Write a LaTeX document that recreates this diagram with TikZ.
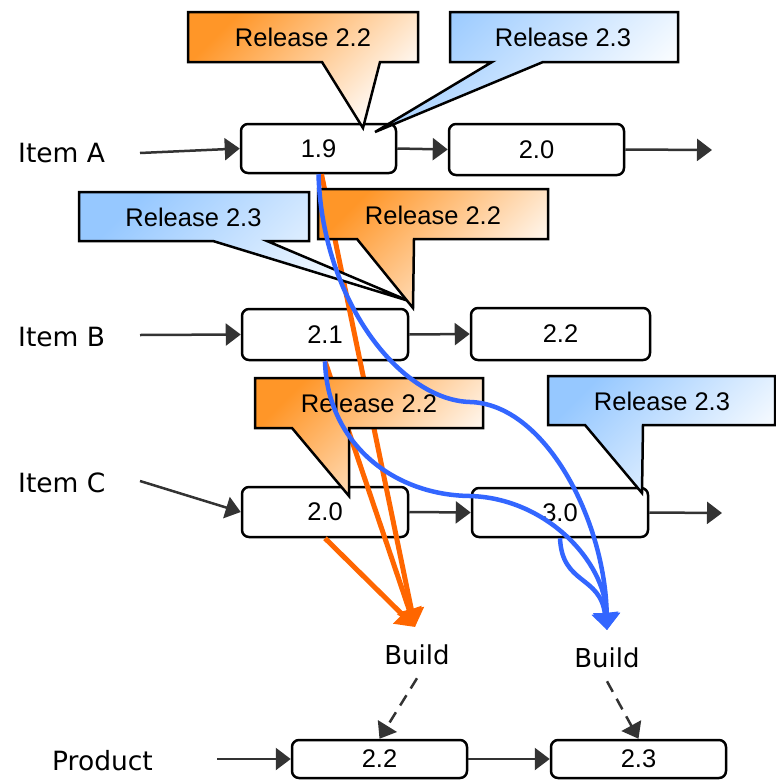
\documentclass[tikz,border=0pt]{standalone}
\usepackage{fontspec}
\setmainfont{Liberation Sans}
\newfontfamily\lblfont{DejaVu Sans}
\usetikzlibrary{arrows.meta}

\definecolor{relorange}{RGB}{255,150,40}
\definecolor{relblue}{RGB}{150,200,255}
\definecolor{linkorange}{RGB}{255,102,0}
\definecolor{linkblue}{RGB}{51,102,255}
\definecolor{flowgray}{RGB}{51,51,51}

\begin{document}
\begin{tikzpicture}[x=1pt,y=-1pt,
  verbox/.style={draw=black, line width=2.5pt, rounded corners=7pt, fill=white,
    inner sep=0pt, font=\fontsize{25.5}{30}\selectfont},
  rowlabel/.style={anchor=west, inner sep=0pt, font=\lblfont\fontsize{26.5}{30}\selectfont},
  buildlabel/.style={inner xsep=0pt, inner ysep=13pt, font=\lblfont\fontsize{26}{30}\selectfont},
  calltext/.style={inner sep=0pt, font=\fontsize{25.5}{30}\selectfont},
  flow/.style={draw=flowgray, line width=2.5pt, -{Triangle[length=15pt,width=22pt]}},
  buildflow/.style={flow, dash pattern=on 12pt off 8pt},
  orangelink/.style={draw=linkorange, line width=5pt, -{Triangle[length=18pt,width=25pt]}},
  bluelink/.style={draw=linkblue, line width=4.5pt, -{Triangle[length=17pt,width=26pt]}},
  orangecall/.style={draw=black, line width=2.5pt, top color=relorange, bottom color=white, shading angle=45},
  bluecall/.style={draw=black, line width=2.5pt, top color=relblue, bottom color=white, shading angle=45},
]
\useasboundingbox (0,0) rectangle (776,782);

% row labels
\node[rowlabel] (itemA) at (18,153) {Item A};
\node[rowlabel] (itemB) at (18,337.5) {Item B};
\node[rowlabel] (itemC) at (18,482.5) {Item C};
\node[rowlabel] (product) at (52,761) {Product};

% version boxes
\node[verbox, minimum width=155pt, minimum height=49pt] (a19) at (318.5,148.5) {1.9};
\node[verbox, minimum width=175pt, minimum height=51pt] (a20) at (536.5,149.5) {2.0};
\node[verbox, minimum width=166pt, minimum height=51pt] (b21) at (325,334.5) {2.1};
\node[verbox, minimum width=179pt, minimum height=52pt] (b22) at (560.5,334) {2.2};
\node[verbox, minimum width=166pt, minimum height=50pt] (c20) at (325,512) {2.0};
\node[verbox, minimum width=176pt, minimum height=49pt] (c30) at (560,512.5) {3.0};
\node[verbox, minimum width=175pt, minimum height=38pt] (p22) at (379.5,759) {2.2};
\node[verbox, minimum width=175pt, minimum height=38pt] (p23) at (638.5,759) {2.3};

% free ends of the flow arrows
\coordinate (inA) at (140,153);
\coordinate (inB) at (140,335);
\coordinate (inC) at (140,481);
\coordinate (inP) at (217,759);
\coordinate (outA) at (712,150);
\coordinate (outC) at (722,513);

% version flow
\draw[flow] (inA) -- (a19.west);
\draw[flow] (a19.east) -- (a20.west);
\draw[flow] (a20.east) -- (outA);
\draw[flow] (inB) -- (b21.west);
\draw[flow] (b21.east) -- (b22.west);
\draw[flow] (inC) -- (c20.west);
\draw[flow] (c20.east) -- (c30.west);
\draw[flow] (c30.east) -- (outC);
\draw[flow] (inP) -- (p22.west);
\draw[flow] (p22.east) -- (p23.west);

% build labels and their targets
\node[buildlabel] (build1) at (417,655) {Build};
\node[buildlabel] (build2) at (607,658) {Build};
\coordinate (t1) at (415,627);
\coordinate (t2) at (607,630);

% release 2.2 inputs
\draw[orangelink] ([xshift=3pt]a19.south) -- (t1);
\draw[orangelink] (b21.south) -- (t1);
\draw[orangelink] (c20.south) -- (t1);

% release callouts
\shadedraw[orangecall] (188,12) -- (418,12) -- (418,62) -- (380,62) -- (363,128) -- (322,62) -- (188,62) -- cycle;
\node[calltext] (relA22) at (303,37) {Release 2.2};
\shadedraw[bluecall] (450,12) -- (678,12) -- (678,62) -- (543,62) -- (375,132) -- (492,62) -- (450,62) -- cycle;
\node[calltext] (relA23) at (563,37) {Release 2.3};
\shadedraw[bluecall] (79,192) -- (309,192) -- (309,241) -- (267,241) -- (409,301) -- (213,241) -- (79,241) -- cycle;
\node[calltext] (relB23) at (193.5,217) {Release 2.3};
\shadedraw[orangecall] (318,189) -- (548,189) -- (548,239) -- (414,239) -- (413,308) -- (357,239) -- (318,239) -- cycle;
\node[calltext] (relB22) at (433,215) {Release 2.2};
\shadedraw[orangecall] (255,378) -- (483,378) -- (483,428) -- (349,428) -- (349,496) -- (292,428) -- (255,428) -- cycle;
\node[calltext] (relC22) at (369,403) {Release 2.2};
\shadedraw[bluecall] (548,376) -- (775,376) -- (775,425) -- (643,425) -- (642,493) -- (585,425) -- (548,425) -- cycle;
\node[calltext] (relC23) at (662,401) {Release 2.3};

% release 2.3 inputs
\draw[bluelink] (a19.south) .. controls (322,300) and (400,400) .. (470,402)
  .. controls (545,404) and (605,520) .. (t2);
\draw[bluelink] (b21.south) .. controls (327,440) and (390,495) .. (470,496)
  .. controls (545,498) and (605,560) .. (t2);
\draw[bluelink] (c30.south) .. controls (562,585) and (600,575) .. (t2);

% builds feed the product
\draw[buildflow] (build1.south) -- (p22.north);
\draw[buildflow] (build2.south) -- (p23.north);
\end{tikzpicture}
\end{document}
